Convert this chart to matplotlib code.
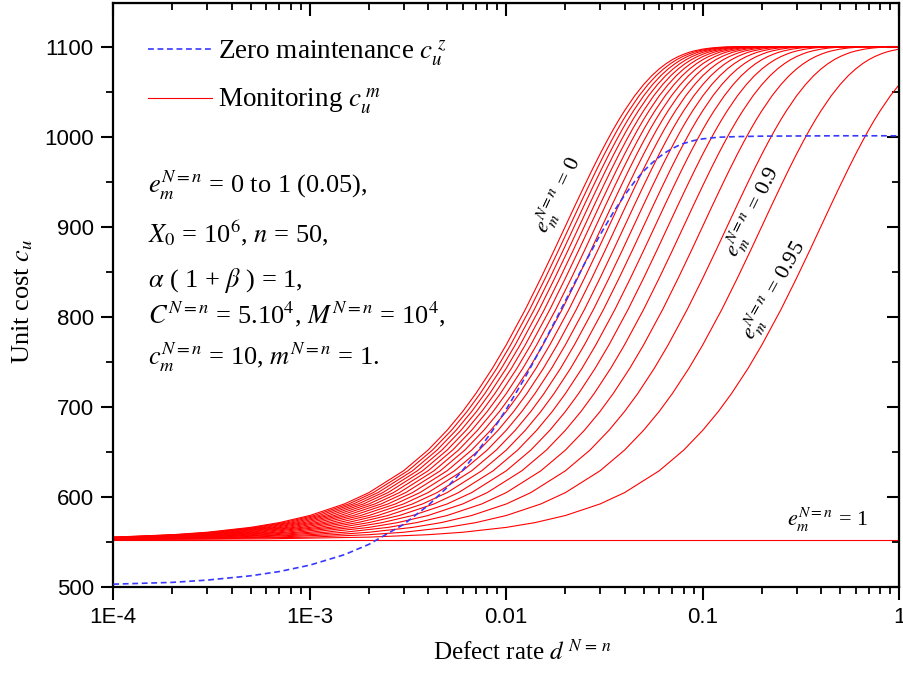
import matplotlib
matplotlib.use('Agg')
import matplotlib.pyplot as plt
from matplotlib.ticker import MultipleLocator, LogLocator, NullFormatter
import numpy as np

# effective defect rate (1 - e) * d, and the e = 0 monitoring curve read at those points
# (every monitoring curve is the same curve slid along the log axis)
d_eff = [1e-6, 1e-5, 3e-5, 1e-4, 2e-4, 3e-4, 5e-4, 7e-4, 1e-3, 1.5e-3, 2e-3, 3e-3,
         4e-3, 5e-3, 6e-3, 7e-3, 8.5e-3, 0.01, 0.0125, 0.015, 0.0175, 0.02, 0.0225, 0.025,
         0.0275, 0.03, 0.0325, 0.035, 0.0375, 0.04, 0.045, 0.05, 0.055, 0.06, 0.065, 0.07,
         0.075, 0.08, 0.085, 0.09, 0.1, 0.11, 0.12, 0.13, 0.15, 0.2, 0.5, 1.0]
cost_e0 = [553.0, 553.3, 553.8, 555.7, 558.4, 561.1, 566.5, 571.8, 579.7, 592.5, 605.1, 629.3,
           652.3, 674.3, 695.1, 715.0, 743.0, 769.1, 808.3, 843.1, 873.7, 900.8, 924.7, 945.7,
           964.3, 980.7, 995.1, 1007.9, 1019.1, 1028.9, 1045.3, 1057.9, 1067.7, 1075.2, 1081.0, 1085.5,
           1088.9, 1091.5, 1093.6, 1095.1, 1097.2, 1098.4, 1099.1, 1099.5, 1099.8, 1100.0, 1100.0, 1100.0]

# zero maintenance curve c_u^z
d_zero = [1e-4, 2e-4, 3e-4, 5e-4, 7e-4, 1e-3, 1.5e-3, 2e-3, 3e-3, 4e-3, 5e-3, 6e-3, 7e-3,
          8.5e-3, 0.01, 0.0125, 0.015, 0.0175, 0.02, 0.025, 0.03, 0.035, 0.04, 0.045, 0.05,
          0.055, 0.06, 0.065, 0.07, 0.075, 0.08, 0.09, 0.1, 0.12, 0.15, 0.2, 0.5, 1.0]
cost_zero = [503.5, 505.5, 508.0, 512.8, 517.5, 524.6, 536.2, 547.7, 569.8, 590.8, 610.9, 629.9, 648.1,
             673.7, 697.5, 733.4, 765.2, 793.2, 817.9, 859.0, 891.0, 915.8, 935.1, 950.2, 961.8,
             970.6, 977.5, 982.8, 986.9, 990.1, 992.5, 995.7, 997.6, 999.4, 1000.1, 1000.6, 1001.0, 1001.0]

# monitoring efficiency e_m^{N=n}: 0 to 0.95 by 0.05, plus e = 1 (flat line)
eff_levels = [0.0, 0.05, 0.1, 0.15, 0.2, 0.25, 0.3, 0.35, 0.4, 0.45,
              0.5, 0.55, 0.6, 0.65, 0.7, 0.75, 0.8, 0.85, 0.9, 0.95]
cost_full_monitoring = 553.0

x_ticks = [1e-4, 1e-3, 0.01, 0.1, 1]
x_ticklabels = ['1E-4', '1E-3', '0.01', '0.1', '1']

plt.rcParams['font.family'] = ['Liberation Serif', 'DejaVu Serif']
plt.rcParams['mathtext.fontset'] = 'stix'

fig = plt.figure(figsize=(9.04, 6.73), dpi=100)
ax = fig.add_axes([0.1253, 0.1273, 0.8695, 0.8678])

for e in eff_levels:
    ax.plot(np.array(d_eff) / (1 - e), cost_e0, color='#ff0000', lw=0.8, zorder=2)
ax.axhline(cost_full_monitoring, color='#ff0000', lw=0.8, zorder=2)

ax.plot(d_zero, cost_zero, color='#3838ff', lw=1.2, ls=(0, (3.5, 2.2)), zorder=3)

ax.set_xscale('log')
ax.set_xlim(1e-4, 1)
ax.set_ylim(500, 1148)

# axes, ticks
for sp in ax.spines.values():
    sp.set_linewidth(1.6)
ax.set_xticks(x_ticks, x_ticklabels)
ax.xaxis.set_minor_locator(LogLocator(base=10, subs=np.arange(2, 10)))
ax.xaxis.set_minor_formatter(NullFormatter())
ax.yaxis.set_major_locator(MultipleLocator(100))
ax.yaxis.set_minor_locator(MultipleLocator(50))
ax.tick_params(which='major', direction='out', length=9, width=1.5, labelsize=16, pad=5)
ax.tick_params(which='minor', direction='out', length=5, width=1.3)
for lab in ax.get_xticklabels() + ax.get_yticklabels():
    lab.set_fontfamily('Liberation Sans')

# mirrored ticks on top and right point inwards
top = ax.secondary_xaxis('top')
top.set_xticks(x_ticks)
top.xaxis.set_minor_locator(LogLocator(base=10, subs=np.arange(2, 10)))
top.tick_params(which='major', direction='in', length=9, width=1.5, labeltop=False)
top.tick_params(which='minor', direction='in', length=5, width=1.3)
right = ax.secondary_yaxis('right')
right.yaxis.set_major_locator(MultipleLocator(100))
right.yaxis.set_minor_locator(MultipleLocator(50))
right.tick_params(which='major', direction='in', length=9, width=1.5, labelright=False)
right.tick_params(which='minor', direction='in', length=5, width=1.3)

ax.set_xlabel(r'Defect rate $d^{\;N\,=\,n}$', fontsize=18)
ax.xaxis.set_label_coords(0.521, -0.089)
ax.set_ylabel(r'Unit cost $c_u$', fontsize=19)
ax.yaxis.set_label_coords(-0.100, 0.49)

# legend
ax.plot([], [], color='#3838ff', lw=1.2, ls=(0, (3.5, 2.2)), label=r'Zero maintenance $c_u^{\;z}$')
ax.plot([], [], color='#ff0000', lw=0.8, label=r'Monitoring $c_u^{\;m}$')
ax.legend(loc='upper left', bbox_to_anchor=(0.044, 0.940), frameon=False, fontsize=19.5,
          handlelength=2.35, handletextpad=0.25, labelspacing=0.66, borderpad=0, borderaxespad=0)

# parameter block
params = [r'$e_m^{N=n}$ = 0 to 1 (0.05),',
          r'$X_0$ = 10$^6$, $n$ = 50,',
          r'$\alpha$ ( 1 + $\beta$ ) = 1,',
          r'$C^{N=n}$ = 5.10$^4$, $M^{N=n}$ = 10$^4$,',
          r'$c_m^{N=n}$ = 10, $m^{N=n}$ = 1.']
param_y = [0.675, 0.591, 0.514, 0.452, 0.381]
for txt, yy in zip(params, param_y):
    ax.text(0.044, yy, txt, transform=ax.transAxes, fontsize=19, va='baseline', ha='left')

# curve labels
ax.text(0.566, 0.672, r'$e_m^{N=n}$ = 0', transform=ax.transAxes, fontsize=16,
        rotation=65, ha='center', va='center', rotation_mode='anchor')
ax.text(0.814, 0.643, r'$e_m^{N=n}$ = 0.9', transform=ax.transAxes, fontsize=16,
        rotation=64, ha='center', va='center', rotation_mode='anchor')
ax.text(0.840, 0.509, r'$e_m^{N=n}$ = 0.95', transform=ax.transAxes, fontsize=16,
        rotation=61, ha='center', va='center', rotation_mode='anchor')
ax.text(0.909, 0.115, r'$e_m^{N=n}$ = 1', transform=ax.transAxes, fontsize=16,
        ha='center', va='center')

fig.savefig('out.png', dpi=100)
